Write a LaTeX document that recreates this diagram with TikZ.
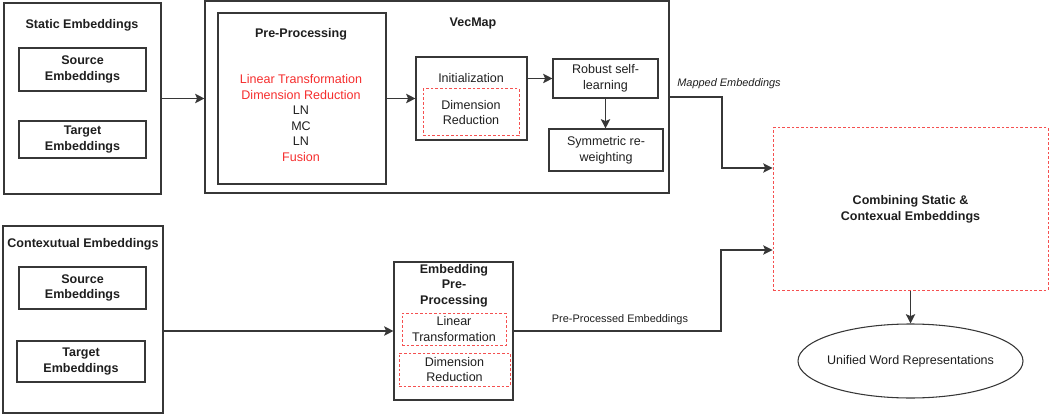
\documentclass[tikz,border=0pt]{standalone}
\usepackage{fontspec}
\setmainfont{Liberation Sans}
\usetikzlibrary{arrows.meta,shapes.geometric}
\definecolor{txtred}{RGB}{245,45,45}
\definecolor{dashred}{RGB}{245,80,80}
\definecolor{ink}{RGB}{30,30,30}
\definecolor{edge}{RGB}{55,55,55}
\tikzset{
  px/.style={x=0.75pt,y=-0.75pt},
  box/.style={draw=edge,line width=0.8pt,rectangle,inner sep=0pt,align=center,text=ink},
  rbox/.style={draw=dashred,line width=0.75pt,dash pattern=on 2pt off 1.5pt,rectangle,inner sep=0pt,align=center,text=ink},
  txt/.style={font=\fontsize{9.4}{11.7}\selectfont,text=ink,align=center,inner sep=0pt},
  btxt/.style={font=\fontsize{9.4}{11.7}\selectfont\bfseries,text=ink,align=center,inner sep=0pt},
  smalltxt/.style={font=\fontsize{8.2}{10}\selectfont,text=ink,inner sep=0pt},
  arr/.style={draw=edge,line width=0.8pt,-{Stealth[length=7pt,width=7pt,inset=1.5pt]}}
}
\begin{document}
\begin{tikzpicture}[px]
\useasboundingbox (0,0) rectangle (1059,420);
% Static embeddings
\node[box,minimum width=157*0.75pt,minimum height=191*0.75pt] (static) at (82.5,98.5) {};
\node[btxt] (statict) at (82,25) {Static Embeddings};
\node[box,btxt,minimum width=127*0.75pt,minimum height=43*0.75pt] (src1) at (82.5,69.5) {Source\\Embeddings};
\node[box,btxt,minimum width=127*0.75pt,minimum height=37*0.75pt] (tgt1) at (82.5,139.5) {Target\\Embeddings};
% VecMap
\node[box,minimum width=464*0.75pt,minimum height=192*0.75pt] (vecmap) at (437,97) {};
\node[btxt] (vecmapt) at (473,23) {VecMap};
\node[box,minimum width=168*0.75pt,minimum height=171*0.75pt] (pre) at (302,98.5) {};
\node[btxt] (pret) at (301,34) {Pre-Processing};
\node[txt] (prel) at (301,118) {\textcolor{txtred}{Linear Transformation}\\\textcolor{txtred}{Dimension Reduction}\\LN\\MC\\LN\\\textcolor{txtred}{Fusion}};
\node[box,minimum width=111*0.75pt,minimum height=83*0.75pt] (init) at (471.5,98.5) {};
\node[txt] (initt) at (471,78) {Initialization};
\node[rbox,txt,minimum width=96*0.75pt,minimum height=47*0.75pt] (initdr) at (471,112.5) {Dimension\\Reduction};
\node[box,txt,minimum width=105*0.75pt,minimum height=39*0.75pt] (robust) at (605.5,78.5) {Robust self-\\learning};
\node[box,txt,minimum width=114*0.75pt,minimum height=42*0.75pt] (sym) at (606,150) {Symmetric re-\\weighting};
% Combining
\node[rbox,btxt,minimum width=275*0.75pt,minimum height=162*0.75pt] (comb) at (910.5,209) {Combining Static \&\\Contexual Embeddings};
\node[draw=edge,line width=0.8pt,ellipse,minimum width=225*0.75pt,minimum height=74*0.75pt,inner sep=0pt] (unified) at (910.5,361) {};
\node[txt] (unifiedt) at (unified.center) {Unified Word Representations};
% Contextual
\node[box,minimum width=160*0.75pt,minimum height=187*0.75pt] (context) at (83,319.5) {};
\node[btxt] (contextt) at (83,244) {Contexutual Embeddings};
\node[box,btxt,minimum width=127*0.75pt,minimum height=42*0.75pt] (src2) at (82.5,288) {Source\\Embeddings};
\node[box,btxt,minimum width=128*0.75pt,minimum height=41*0.75pt] (tgt2) at (81,361.5) {Target\\Embeddings};
% Embedding pre-processing
\node[box,minimum width=119*0.75pt,minimum height=138*0.75pt] (emb) at (453.5,331) {};
\node[btxt] (embt) at (454,285.5) {Embedding\\Pre-\\Processing};
\node[rbox,txt,minimum width=104*0.75pt,minimum height=32*0.75pt] (lt) at (454,329) {Linear\\Transformation};
\node[rbox,txt,minimum width=111*0.75pt,minimum height=33*0.75pt] (dr) at (454.5,369.5) {Dimension\\Reduction};
% bends
\coordinate (mbend) at (722,168);
\coordinate (pbend) at (721,250);
% connectors
\draw[arr] (static.east) -- (static.east -| vecmap.west);
\draw[arr] (pre.east) -- (init.west);
\draw[arr] (init.east |- robust.west) -- (robust.west);
\draw[arr] (robust.south) -- (robust.south |- sym.north);
\draw[arr] (vecmap.east) -| (mbend) -- (mbend -| comb.west);
\node[smalltxt,font=\fontsize{8.2}{10}\selectfont\itshape] (mlabel) at (729,84) {Mapped Embeddings};
\draw[arr] (context.east |- emb.west) -- (emb.west);
\draw[arr] (emb.east) -| (pbend) -- (pbend -| comb.west);
\node[smalltxt] (plabel) at (620,320) {Pre-Processed Embeddings};
\draw[arr] (comb.south) -- (unified.north);
\end{tikzpicture}
\end{document}
